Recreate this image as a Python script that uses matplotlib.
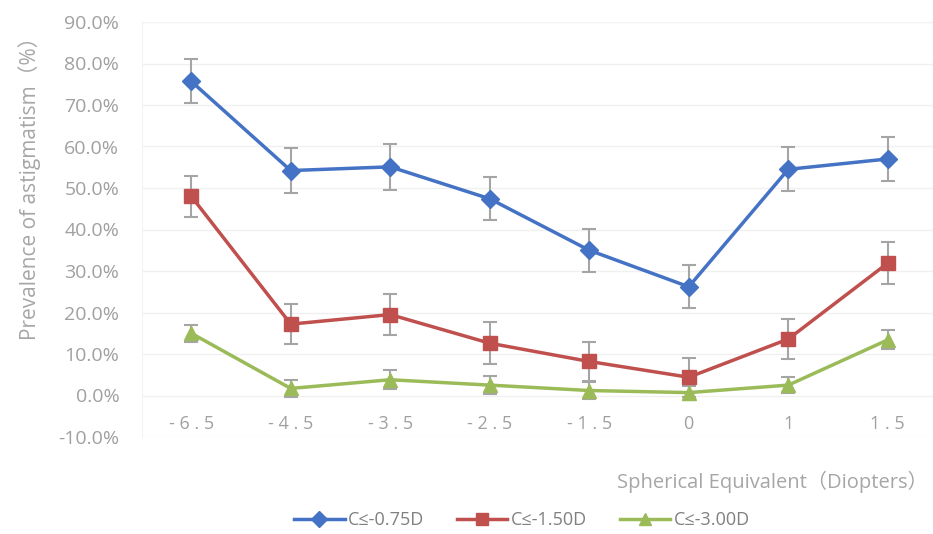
import matplotlib.pyplot as plt
from matplotlib.lines import Line2D

plt.rcParams['font.family'] = ['Open Sans', 'Noto Sans CJK SC', 'DejaVu Sans']

x_labels = ["-6.5", "-4.5", "-3.5", "-2.5", "-1.5", "0", "1", "1.5"]
series_names = ["C≤-0.75D", "C≤-1.50D", "C≤-3.00D"]
c075 = [75.7, 54.2, 55.1, 47.4, 35.0, 26.2, 54.5, 57.0]
c075_err = [5.3, 5.5, 5.5, 5.2, 5.2, 5.2, 5.3, 5.2]
c150 = [48.0, 17.2, 19.5, 12.6, 8.2, 4.4, 13.6, 31.9]
c150_err = [5.0, 4.9, 5.0, 5.0, 4.8, 4.7, 4.9, 5.0]
c300 = [15.0, 1.7, 3.8, 2.5, 1.2, 0.7, 2.5, 13.4]
c300_err = [2.0, 2.1, 2.3, 2.2, 2.0, 1.7, 1.9, 2.3]

colors = ["#4472C4", "#C0504D", "#9BBB59"]
markers = ["D", "s", "^"]
msizes = [9, 10, 10]

fig = plt.figure(figsize=(9.33, 5.34), dpi=100)
ax = fig.add_axes([141.5 / 933, 97 / 534, 796 / 933, 415 / 534])

xs = list(range(len(x_labels)))
for vals, errs, col, mk, ms in zip([c075, c150, c300], [c075_err, c150_err, c300_err],
                                   colors, markers, msizes):
    ax.errorbar(xs, vals, yerr=errs, fmt="none", ecolor="#A5A5A5", elinewidth=1.5,
                capsize=5, capthick=1.5, zorder=2)
    ax.plot(xs, vals, color=col, lw=2.5, marker=mk, ms=ms, zorder=3)

ax.set_xlim(-0.5, len(x_labels) - 0.5)
ax.set_ylim(-10, 90)
ax.set_yticks(range(-10, 91, 10))
ax.set_yticklabels([f"{v:.1f}%" for v in range(-10, 91, 10)])
ax.set_xticks(xs)
ax.set_xticklabels([" ".join(l) for l in x_labels])
ax.grid(axis="y", color="#F0F0F0", lw=1)
ax.set_axisbelow(True)
for s in ["top", "right", "left"]:
    ax.spines[s].set_color("#F3F3F3")
ax.spines["bottom"].set_position(("data", 0))
ax.spines["bottom"].set_visible(False)
ax.tick_params(axis="y", length=0, pad=16, labelsize=14, labelcolor="#A0A0A0")
ax.tick_params(axis="x", length=0, pad=14, labelsize=13, labelcolor="#A0A0A0")

fig.text(30 / 933, 1 - 183 / 534, "Prevalence of astigmatism（%）", rotation=90,
         ha="center", va="center", fontsize=15, color="#A6A6A6")
fig.text(928 / 933, 1 - 482 / 534, "Spherical Equivalent（Diopters）", ha="right",
         va="center", fontsize=14.5, color="#A6A6A6")

handles = [Line2D([], [], color=c, lw=2.5, marker=m, ms=s * 0.85) for c, m, s in zip(colors, markers, msizes)]
fig.legend(handles, series_names, loc="center", bbox_to_anchor=(522 / 933, 1 - 520 / 534),
           ncol=3, frameon=False, fontsize=13, labelcolor="#808080", handlelength=2.8,
           columnspacing=1.8, handletextpad=0.2)

fig.savefig("out.png", dpi=100)
